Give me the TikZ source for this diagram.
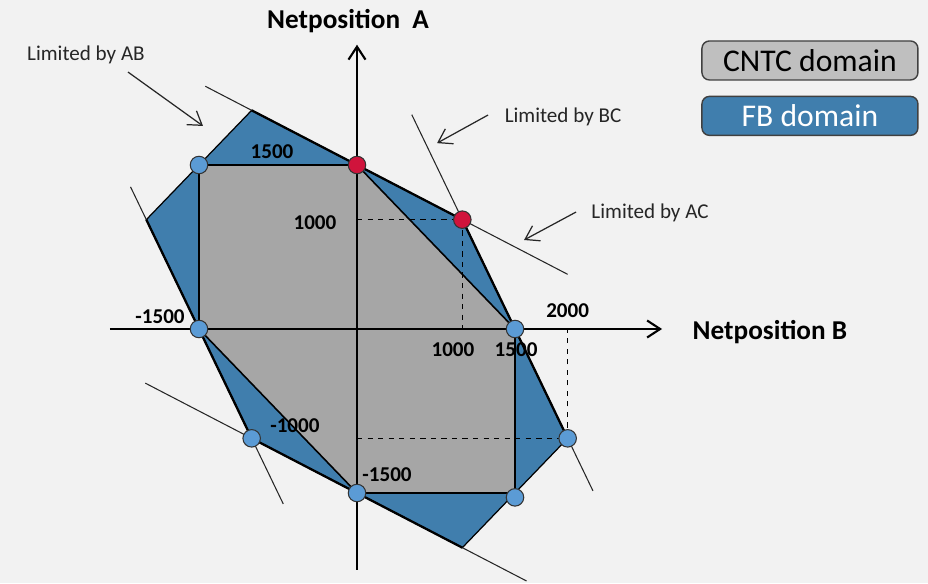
\documentclass[tikz,border=0pt]{standalone}
\usepackage{fontspec}
\setmainfont{Carlito}
\usetikzlibrary{positioning}
\usetikzlibrary{calc}
\usetikzlibrary{arrows.meta}
\definecolor{bggray}{HTML}{F2F2F2}
\definecolor{fbblue}{HTML}{407EAD}
\definecolor{cntcgray}{HTML}{A6A6A6}
\definecolor{legendgray}{HTML}{BFBFBF}
\definecolor{pointblue}{HTML}{5B9BD5}
\definecolor{pointred}{HTML}{D0143C}
\tikzset{
    % An open arrow head, as used on the axes and pointers
    >={Straight Barb[length=2.6mm, width=3.4mm]},
%
    % Round marker sitting on a corner of a domain
    corner point/.style={
        draw=black!80, circle, inner sep=0, line width=0.6pt,
        minimum size=3.5mm, fill=pointblue},
    % Corner where two constraints meet
    critical point/.style={corner point, fill=pointred},
%
    % Bold numbers along the axes
    tick label/.style={font=\fontsize{12}{14}\selectfont\bfseries, inner sep=1pt},
    axis label/.style={font=\fontsize{15.5}{18}\selectfont\bfseries},
%
    % Thin line of a limiting constraint, and where it binds
    limit line/.style={draw=black!85, line width=0.6pt},
    binding edge/.style={draw=black, line width=1.3pt},
%
    % Text with a pointer to a constraint
    pointer text/.style={font=\fontsize{12}{14}\selectfont, text=black!85},
    pointer/.style={->, draw=black!85, line width=0.7pt},
%
    % Boxes of the legend
    legend box/.style={
        draw=black!75, rounded corners=1.5mm, line width=0.8pt,
        minimum width=4.32cm, minimum height=0.78cm,
        font=\fontsize{18}{20}\selectfont}}

\begin{document}
\begin{tikzpicture}[x=2.1067mm, y=2.1867mm]
\useasboundingbox[fill=bggray] (-71.4mm,-50.8mm) rectangle (114.2mm,65.8mm);

% Corners of the flow based domain
\coordinate (fb nw) at (-10,20);
\coordinate (fb ne) at (10,10);
\coordinate (fb e) at (20,-10);
\coordinate (fb se) at (10,-20);
\coordinate (fb sw) at (-10,-10);
\coordinate (fb w) at (-20,10);

\draw[fill=fbblue, line width=0.7pt]
    (fb nw) -- (fb ne) -- (fb e) -- (fb se) -- (fb sw) -- (fb w) -- cycle;

% CNTC domain on top of it
\draw[fill=cntcgray, line width=0.9pt]
    (-15,15) -- (0,15) -- (15,0) -- (15,-15) -- (0,-15) -- (-15,0) -- cycle;

% The limiting constraints
\draw[limit line] (-14.4,22.2) -- (20,5);
\draw[limit line] (5.2,19.6) -- (22.4,-14.8);
\draw[limit line] (-21.5,13) -- (-7,-16);
\draw[limit line] (-20.1,-4.95) -- (16.1,-23.05);

\draw[binding edge] (fb nw) -- (fb ne) -- (fb e);
\draw[binding edge] (fb se) -- (fb sw) -- (fb w);

% Helper lines
\draw[dashed, line width=0.6pt] (0,10) -- (10,10) -- (10,0);
\draw[dashed, line width=0.6pt] (0,-10) -- (20,-10) -- (20,0);

% Axes
\draw[->, line width=1.2pt] (0,-22) -- (0,26);
\draw[->, line width=1.2pt] (-23.45,0) -- (28.96,0);
\node[axis label] (axis a) at (-0.85,28.17) {Netposition\hspace{0.45em}A};
\node[axis label] (axis b) at (39.2,-0.27) {Netposition B};

% Corners
\path
    node[corner point] (p1) at (-15,15) {}
    node[corner point] (p2) at (-15,0) {}
    node[corner point] (p3) at (15,0) {}
    node[corner point] (p4) at (-10,-10) {}
    node[corner point] (p5) at (0,-15) {}
    node[corner point] (p6) at (15,-15.4) {}
    node[corner point] (p7) at (20,-10) {}
    node[critical point] (p8) at (0,15) {}
    node[critical point] (p9) at (10,10) {};

% Numbers
\node[tick label] (tick a top) at (-8.07,16.2) {1500};
\node[tick label] (tick a mid) at (-3.99,9.7) {1000};
\node[tick label] (tick b left) at (-18.7,1.1) {-1500};
\node[tick label] (tick b mid) at (9.11,-1.92) {1000};
\node[tick label] (tick b right) at (15.1,-1.92) {1500};
\node[tick label] (tick b far) at (20,1.65) {2000};
\node[tick label] (tick a low) at (-5.89,-8.87) {-1000};
\node[tick label] (tick a bottom) at (2.85,-13.35) {-1500};

% Pointers to the constraints
\node[pointer text] (ab text) at (-25.73,25.06) {Limited by AB};
\coordinate (ab tail) at (-21.74,23.5);
\coordinate (ab tip) at (-14.62,18.57);
\draw[pointer] (ab tail) -- (ab tip);

\node[pointer text] (bc text) at (19.56,19.39) {Limited by BC};
\coordinate (bc tail) at (12.44,19.57);
\coordinate (bc tip) at (7.6,17);
\draw[pointer] (bc tail) -- (bc tip);

\node[pointer text] (ac text) at (27.82,10.61) {Limited by AC};
\coordinate (ac tail) at (20.8,10.7);
\coordinate (ac tip) at (15.86,8.14);
\draw[pointer] (ac tail) -- (ac tip);

% Legend
\node[legend box, fill=legendgray] (cntc legend) at (43,24.56) {CNTC domain};
\node[legend box, fill=fbblue, text=white, below=3mm of cntc legend]
    (fb legend) {FB domain};

\end{tikzpicture}
\end{document}
